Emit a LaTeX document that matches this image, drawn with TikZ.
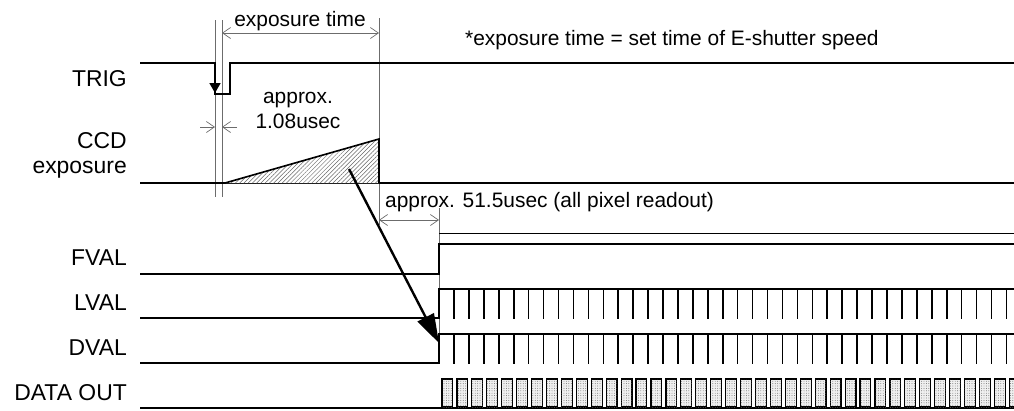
\documentclass[tikz,border=0pt]{standalone}
\usepackage{fontspec}
\setmainfont{Liberation Sans}
\usetikzlibrary{arrows.meta,patterns.meta}
\begin{document}
\begin{tikzpicture}[x=1bp,y=-1bp,
  sig/.style={line width=1.6bp,black,line join=miter},
  thinsig/.style={line width=1bp,black},
  dimline/.style={line width=0.7bp,gray!85!black},
  dimarrow/.style={dimline,-{Straight Barb[length=8bp,width=11bp]}},
  dimboth/.style={dimline,{Straight Barb[length=8bp,width=11bp]}-{Straight Barb[length=8bp,width=11bp]}},
  lbl/.style={font=\fontsize{23}{26}\selectfont,anchor=base east,inner sep=0pt},
  ann/.style={font=\fontsize{21}{25}\selectfont,inner sep=0pt},
  hatch/.style={pattern={Lines[angle=45,distance=3bp,line width=0.5bp]},pattern color=gray!80!black},
  databox/.style={draw,line width=1.2bp,fill=gray!12,postaction={pattern={Dots[distance=2.4bp,radius=0.45bp]},pattern color=gray!75!black}}]
\useasboundingbox (0,0) rectangle (1014,410);

% ---------- labels ----------
\node[lbl] (ltrig) at (127,86) {TRIG};
\node[lbl] (lccd) at (127,148) {CCD};
\node[lbl] (lexp) at (127,173) {exposure};
\node[lbl] (lfval) at (127,265) {FVAL};
\node[lbl] (llval) at (127,310) {LVAL};
\node[lbl] (ldval) at (127,355) {DVAL};
\node[lbl] (ldata) at (127,400) {DATA OUT};

% ---------- dimension / extension lines ----------
\draw[dimline] (215,20) -- (215,197);
\draw[dimline] (222,20) -- (222,197);
\draw[dimline] (379,18) -- (379,225);
\draw[dimline] (439,208) -- (439,363);

\coordinate (et1) at (222,33);
\coordinate (et2) at (379,33);
\draw[dimboth] (et1) -- (et2);
\node[ann,anchor=base] (tet) at (300,26) {exposure time};

\coordinate (d1a) at (200,127);
\coordinate (d1b) at (215,127);
\coordinate (d2a) at (237,127);
\coordinate (d2b) at (222,127);
\draw[dimarrow] (d1a) -- (d1b);
\draw[dimarrow] (d2a) -- (d2b);
\node[ann,anchor=base] (tapp1) at (298,103) {approx.};
\node[ann,anchor=base] (tapp2) at (298,128) {1.08usec};

\coordinate (r1) at (379,220);
\coordinate (r2) at (439,220);
\draw[dimboth] (r1) -- (r2);
\node[ann,anchor=base west] (tread) at (385,207) {approx. 51.5usec (all pixel readout)};

\node[ann,anchor=base west] (tnote) at (465,45) {*exposure time = set time of E-shutter speed};

% ---------- TRIG ----------
\draw[sig] (140,63) -- (215,63) -- (215,94) -- (230,94) -- (230,63) -- (1014,63);
\coordinate (tga) at (215,63);
\coordinate (tgb) at (215,93);
\draw[line width=1.6bp,-{Triangle[length=10bp,width=11bp]}] (tga) -- (tgb);

% ---------- CCD exposure ----------
\draw[sig] (140,183) -- (1014,183);
\fill[white] (225,183) -- (379,139) -- (379,183) -- cycle;
\path[hatch] (225,183) -- (379,139) -- (379,183) -- cycle;
\draw[sig] (225,183) -- (379,139) -- (379,183);

% ---------- FVAL ----------
\draw[sig] (140,274) -- (439,274) -- (439,244) -- (1014,244);
\draw[thinsig] (439,233) -- (1014,233);

% ---------- LVAL / DVAL ----------
\draw[sig] (140,318) -- (439,318) -- (439,289) -- (1014,289);
\draw[sig] (140,363) -- (439,363) -- (439,334) -- (1014,334);
\foreach \k in {0,...,37}{
  \pgfmathsetmacro{\xx}{454+14.93*\k}
  \draw[sig] (\xx,289) -- (\xx,319);
  \draw[sig] (\xx,334) -- (\xx,364);
}

% ---------- DATA OUT ----------
\draw[sig] (140,408) -- (1014,408);
\begin{scope}
\clip (0,0) rectangle (1014,410);
\foreach \k in {0,...,38}{
  \pgfmathsetmacro{\xx}{442+14.93*\k}
  \draw[databox] (\xx,379) rectangle ({\xx+10.8},407);
}
\end{scope}

% ---------- big arrow ----------
\coordinate (bas) at (349,169);
\coordinate (bae) at (439,343);
\draw[line width=2.4bp,-{Triangle[length=29bp,width=18bp]}] (bas) -- (bae);
\end{tikzpicture}
\end{document}
